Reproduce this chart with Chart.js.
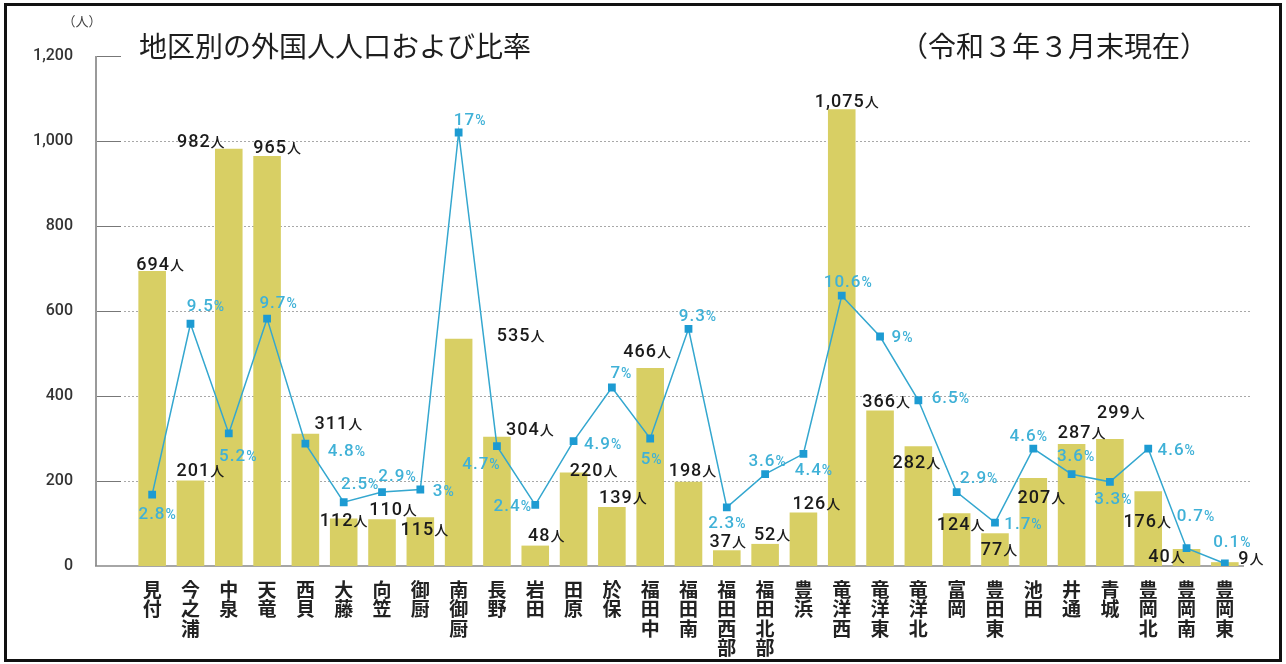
<!DOCTYPE html>
<html lang="ja">
<head>
<meta charset="utf-8">
<title>地区別の外国人人口および比率</title>
<script src="https://cdn.jsdelivr.net/npm/chart.js@4.4.1/dist/chart.umd.min.js"></script>
<style>
  html, body { margin: 0; padding: 0; background: #fff; }
  #wrap { position: relative; width: 1286px; height: 664px; }
  canvas { display: block; }
</style>
</head>
<body>
<div id="wrap"><canvas id="c" width="1286" height="664"></canvas></div>
<script>
// ---- data ----
const categories = ['見付','今之浦','中泉','天竜','西貝','大藤','向笠','御厨','南御厨','長野','岩田','田原','於保','福田中','福田南','福田西部','福田北部','豊浜','竜洋西','竜洋東','竜洋北','富岡','豊田東','池田','井通','青城','豊岡北','豊岡南','豊岡東'];
const population = [694,201,982,965,311,112,110,115,535,304,48,220,139,466,198,37,52,126,1075,366,282,124,77,207,287,299,176,40,9];
const ratio = [2.8,9.5,5.2,9.7,4.8,2.5,2.9,3,17,4.7,2.4,4.9,7,5,9.3,2.3,3.6,4.4,10.6,9,6.5,2.9,1.7,4.6,3.6,3.3,4.6,0.7,0.1];
const yTicks = [0,200,400,600,800,1000,1200];
const titleText = '地区別の外国人人口および比率';
const dateText = '（令和３年３月末現在）';
const unitText = '（人）';
const popSuffix = '人';
const ratioSuffix = '%';

// ---- label layout (offsets of label centre from the mark, px) ----
const popLabelOffset = [[8,-8],[10,-11],[-28,-8],[10,-9],[33,-11],[0,1],[11,-11],[4,11],[62,-4],[33,-8],[11,-11],[20,-3],[11,-10],[-3,-17],[4,-12],[1,-10],[7,-10],[13,-10],[5,-9],[6,-10],[-2,15],[4,10],[4,15],[8,18],[10,-13],[11,-27],[-1,29],[-20,7],[26,-5]];
const ratioLabelOffset = [[5,18],[15,-19],[9,21],[11,-17],[41,6],[16,-19],[15,-17],[23,0],[11,-14],[-16,17],[-23,0],[29,2],[9,-16],[1,19],[9,-14],[0,15],[2,-14],[10,15],[6,-15],[22,-1],[32,-3],[22,-15],[28,0],[-5,-14],[4,-19],[3,16],[28,0],[9,-33],[7,-23]];

const NUM_FONT = "Roboto, 'Liberation Sans', sans-serif";
const JP_FONT = "'Noto Sans CJK JP', 'Noto Sans', sans-serif";
const BAR_COLOR = '#d8cf64';
const LINE_COLOR = '#34a7cf';
const POINT_COLOR = '#1d9bd2';
const PCT_COLOR = '#3fb1d7';

function fmt(n){ return n.toLocaleString('en-US'); }

function drawSplitLabel(ctx, cx, cy, main, suffix, mainSize, sufSize, color){
  ctx.save();
  ctx.fillStyle = color;
  ctx.textBaseline = 'alphabetic';
  ctx.textAlign = 'left';
  const sufFont = '500 ' + sufSize + 'px ' + (suffix === popSuffix ? JP_FONT : NUM_FONT);
  const mainFont = '500 ' + mainSize + 'px ' + NUM_FONT;
  ctx.font = mainFont;
  if ('letterSpacing' in ctx) ctx.letterSpacing = '1px';
  const w1 = ctx.measureText(main).width;
  ctx.font = sufFont;
  if ('letterSpacing' in ctx) ctx.letterSpacing = '0px';
  const w2 = ctx.measureText(suffix).width;
  const x0 = cx - (w1 + w2)/2;
  const base = cy + mainSize*0.36;
  ctx.font = mainFont;
  if ('letterSpacing' in ctx) ctx.letterSpacing = '1px';
  ctx.fillText(main, x0, base);
  ctx.font = sufFont;
  if ('letterSpacing' in ctx) ctx.letterSpacing = '0px';
  ctx.fillText(suffix, x0 + w1, base);
  ctx.restore();
}

const decorPlugin = {
  id: 'decor',
  beforeDraw(chart){
    const ctx = chart.ctx;
    const y = chart.scales.y;
    const ca = chart.chartArea;
    ctx.save();
    ctx.fillStyle = '#fff';
    ctx.fillRect(0,0,chart.width,chart.height);
    // frame
    ctx.strokeStyle = '#111';
    ctx.lineWidth = 3;
    ctx.strokeRect(5.5, 4.5, 1275, 656);
    // titles
    ctx.fillStyle = '#1e1e1e';
    ctx.textBaseline = 'middle';
    ctx.textAlign = 'left';
    ctx.font = '400 28px ' + JP_FONT;
    ctx.fillText(titleText, 139, 46);
    ctx.font = '400 28px ' + JP_FONT;
    ctx.fillText(dateText, 900, 46);
    ctx.fillStyle = '#444';
    ctx.font = '400 13px ' + JP_FONT;
    ctx.textAlign = 'center';
    ctx.fillText(unitText, 82, 21);
    // axes and gridlines
    const axisX = 96;
    ctx.lineWidth = 1;
    yTicks.forEach(v => {
      const py = Math.round(y.getPixelForValue(v)) + 0.5;
      if (v === 0) return;
      ctx.strokeStyle = '#777';
      ctx.setLineDash([]);
      ctx.beginPath(); ctx.moveTo(axisX, py); ctx.lineTo(121, py); ctx.stroke();
      if (v < y.max) {
        ctx.strokeStyle = '#a8a8a8';
        ctx.setLineDash([2,2]);
        ctx.beginPath(); ctx.moveTo(124, py); ctx.lineTo(1252, py); ctx.stroke();
      }
    });
    ctx.setLineDash([]);
    ctx.strokeStyle = '#9a9a9a';
    ctx.lineWidth = 2;
    ctx.beginPath();
    ctx.moveTo(axisX, y.getPixelForValue(y.max));
    ctx.lineTo(axisX, y.getPixelForValue(0));
    ctx.stroke();
    ctx.strokeStyle = '#888';
    ctx.lineWidth = 1.5;
    const py0 = y.getPixelForValue(0);
    ctx.beginPath(); ctx.moveTo(axisX-1, py0); ctx.lineTo(ca.right, py0); ctx.stroke();
    ctx.restore();
  },
  afterDatasetsDraw(chart){
    const ctx = chart.ctx;
    const barMeta = chart.getDatasetMeta(1);
    const lineMeta = chart.getDatasetMeta(0);
    barMeta.data.forEach((el, i) => {
      const off = popLabelOffset[i];
      drawSplitLabel(ctx, el.x + off[0], el.y + off[1], fmt(population[i]), popSuffix, 18, 14, '#1b1b1b');
    });
    lineMeta.data.forEach((el, i) => {
      const off = ratioLabelOffset[i];
      drawSplitLabel(ctx, el.x + off[0], el.y + off[1], String(ratio[i]), ratioSuffix, 17, 14, PCT_COLOR);
    });
  }
};

new Chart(document.getElementById('c'), {
  data: {
    labels: categories.map(s => Array.from(s)),
    datasets: [
      {
        type: 'line',
        label: '比率',
        data: ratio,
        yAxisID: 'y2',
        borderColor: LINE_COLOR,
        borderWidth: 1.5,
        pointStyle: 'rect',
        pointRadius: 5.5,
        pointBackgroundColor: POINT_COLOR,
        pointBorderColor: POINT_COLOR,
        pointBorderWidth: 0,
        tension: 0,
        order: 0
      },
      {
        type: 'bar',
        label: '外国人人口',
        data: population,
        yAxisID: 'y',
        backgroundColor: BAR_COLOR,
        borderWidth: 0,
        categoryPercentage: 1,
        barPercentage: 0.72,
        order: 1
      }
    ]
  },
  options: {
    responsive: false,
    animation: false,
    devicePixelRatio: 1,
    layout: { padding: { top: 56, right: 42, bottom: 0, left: 0 } },
    plugins: { legend: { display: false }, tooltip: { enabled: false }, title: { display: false } },
    scales: {
      x: {
        type: 'category',
        offset: true,
        grid: { display: false },
        border: { display: false },
        ticks: {
          autoSkip: false, maxRotation: 0, minRotation: 0,
          color: '#222', padding: 6,
          font: { family: JP_FONT, size: 19, weight: '700', lineHeight: 1.02 }
        },
        afterFit(scale){ scale.height = 98; }
      },
      y: {
        position: 'left',
        min: 0, max: 1200,
        afterBuildTicks(scale){ scale.ticks = yTicks.map(v => ({ value: v })); },
        grid: { display: false, drawTicks: false },
        border: { display: false },
        ticks: {
          padding: 60,
          color: '#333',
          font: { family: NUM_FONT, size: 16, weight: '500' },
          callback: v => fmt(v)
        },
        afterFit(scale){ scale.width = 133; scale.paddingTop = 0; scale.paddingBottom = 0; }
      },
      y2: { display: false, min: 0, max: 20 }
    }
  },
  plugins: [decorPlugin]
});
</script>
</body>
</html>
